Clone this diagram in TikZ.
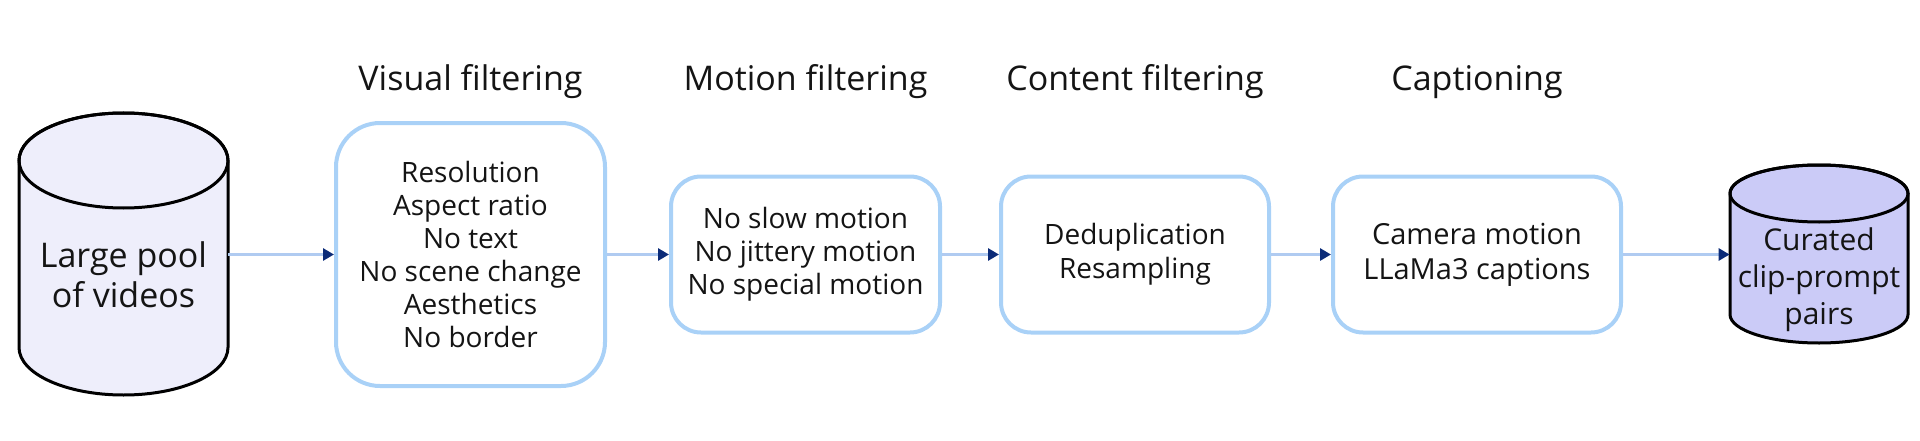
\documentclass[tikz,border=0pt]{standalone}
\usepackage{fontspec}
\setmainfont{Open Sans}
\usetikzlibrary{arrows.meta,backgrounds}
\definecolor{boxblue}{HTML}{A9D1F7}
\definecolor{lineblue}{HTML}{B0CBF1}
\definecolor{headblue}{HTML}{0B2B78}
\definecolor{poolfill}{HTML}{EEEEFB}
\definecolor{curfill}{HTML}{CBCBF7}
\definecolor{ink}{HTML}{141414}
\tikzset{
	stage/.style={draw=boxblue,line width=2pt,rounded corners=15pt,fill=white,align=center,
		text=ink,minimum height=78pt,font=\fontsize{14pt}{16.5pt}\selectfont},
	flow/.style={draw=lineblue,line width=1.5pt,-{Triangle[length=5.5pt,width=6pt,color=headblue]}},
	db/.style={draw=black,line width=1.5pt},
	dbtext/.style={align=center,text=ink,inner sep=0pt},
	heading/.style={anchor=base,text=ink,font=\fontsize{17pt}{20pt}\selectfont}
}
\begin{document}
\begin{tikzpicture}[x=0.5pt,y=0.5pt]
	\useasboundingbox (0,0) rectangle (1920,440);
	\node[stage,minimum width=134.5pt,minimum height=131.5pt,rounded corners=22pt] (vis) at (470.5,185.5)
		{Resolution\\Aspect ratio\\No text\\No scene change\\Aesthetics\\No border};
	\node[stage,minimum width=134.5pt] (mot) at (805.5,185.5) {No slow motion\\No jittery motion\\No special motion};
	\node[stage,minimum width=134pt,font=\fontsize{14pt}{17pt}\selectfont] (con) at (1135,185.5) {Deduplication\\Resampling};
	\node[stage,minimum width=144pt,font=\fontsize{14.5pt}{17.5pt}\selectfont] (cap) at (1477,185.5) {Camera motion\\LLaMa3 captions};
	\node[dbtext,minimum width=104.5pt,font=\fontsize{17pt}{20pt}\selectfont] (pool) at (123.5,165) {Large pool\\of videos};
	\node[dbtext,minimum width=89pt,font=\fontsize{15pt}{18.5pt}\selectfont] (cur) at (1819,160) {Curated\\clip-prompt\\pairs};
	\foreach \n/\t in {vis/Visual filtering,mot/Motion filtering,con/Content filtering,cap/Captioning}{
		\node[heading] (\n-title) at (\n |- 0,350) {\t};
	}
	% cylinders behind the text
	\begin{scope}[on background layer]
		\foreach \cx/\ct/\cb/\rx/\ry/\fc in {123.5/327/45/104.5/47.5/poolfill,1819/275/97/89/28.5/curfill}{
			\draw[db,fill=\fc] (\cx-\rx,\ct-\ry) -- (\cx-\rx,\cb+\ry)
				arc[start angle=180,end angle=360,x radius=\rx,y radius=\ry] -- (\cx+\rx,\ct-\ry)
				arc[start angle=0,end angle=180,x radius=\rx,y radius=\ry] -- cycle;
			\draw[db] (\cx,\ct-\ry) ellipse[x radius=\rx,y radius=\ry];
		}
	\end{scope}
	\draw[flow] (pool.east |- vis) -- (vis);
	\draw[flow] (vis) -- (mot);
	\draw[flow] (mot) -- (con);
	\draw[flow] (con) -- (cap);
	\draw[flow] (cap) -- (cap -| cur.west);
\end{tikzpicture}
\end{document}
